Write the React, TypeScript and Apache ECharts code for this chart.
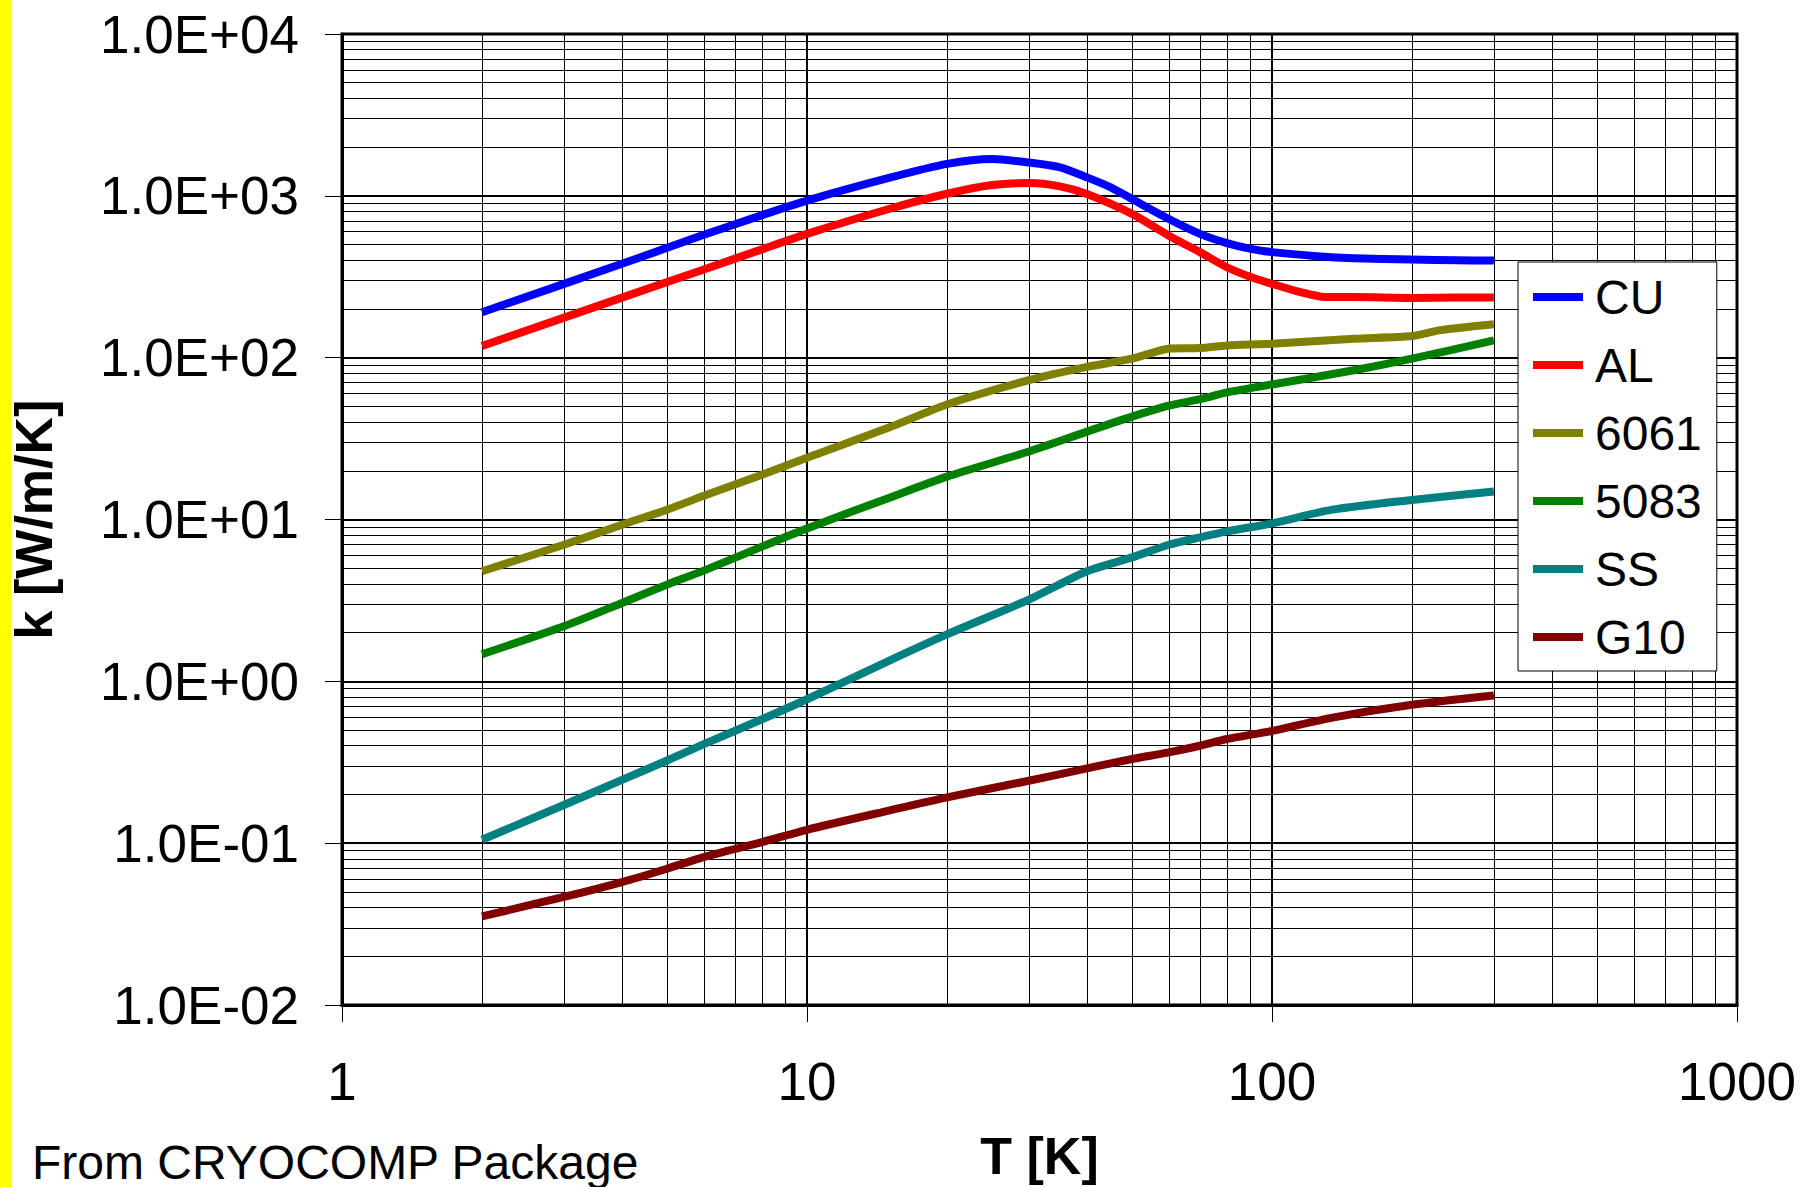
import React, { useEffect, useRef } from "react";
import * as echarts from "echarts";

// ---- data ----
const SERIES_NAMES = ["CU", "AL", "6061", "5083", "SS", "G10"];
const SERIES_COLORS = ["#0000FF", "#FF0000", "#808000", "#008000", "#008080", "#800000"];

const CU_T = [2, 4, 6, 8, 10, 15, 20, 25, 30, 35, 40, 45, 50, 60, 70, 80, 90, 100, 125, 150, 200, 250, 300];
const CU_K = [191, 380, 574, 760, 935, 1290, 1575, 1690, 1607, 1500, 1300, 1128, 955, 719, 582, 510, 470, 449, 424, 412, 404, 400, 398];

const AL_T = [2, 4, 6, 8, 10, 15, 20, 25, 30, 35, 40, 50, 60, 70, 80, 90, 100, 115, 130, 150, 200, 250, 300];
const AL_K = [118, 235, 351, 467, 582, 829, 1030, 1167, 1200, 1145, 1026, 773, 567, 449, 362, 315, 286, 254, 237, 237, 234, 235, 235];

const A6061_T = [2, 3, 4, 5, 6, 8, 10, 15, 20, 30, 40, 50, 60, 70, 80, 100, 150, 200, 230, 300];
const A6061_K = [4.79, 6.98, 9.27, 11.5, 14.0, 18.9, 24.1, 37.0, 51.4, 72.6, 87.7, 98.6, 113.7, 114.7, 119, 122, 131, 136, 148, 161];

const A5083_T = [2, 3, 4, 5, 6, 8, 10, 15, 20, 30, 40, 50, 60, 70, 80, 100, 150, 200, 300];
const A5083_K = [1.47, 2.19, 3.05, 3.96, 4.83, 6.8, 8.8, 13.6, 18.4, 26.3, 34.9, 43.2, 50.5, 55.4, 61, 68.3, 83.6, 98.6, 128];

const SS_T = [2, 3, 4, 5, 6, 8, 10, 15, 20, 30, 40, 50, 60, 70, 80, 100, 135, 200, 300];
const SS_K = [0.105, 0.172, 0.246, 0.324, 0.409, 0.583, 0.775, 1.34, 1.95, 3.2, 4.79, 5.83, 6.98, 7.76, 8.45, 9.47, 11.5, 13.2, 14.9];

const G10_T = [2, 3, 4, 5, 6, 8, 10, 15, 20, 30, 40, 50, 60, 70, 80, 100, 135, 200, 300];
const G10_K = [0.0353, 0.0465, 0.0575, 0.0695, 0.082, 0.1015, 0.121, 0.159, 0.192, 0.243, 0.29, 0.331, 0.364, 0.4, 0.44, 0.494, 0.597, 0.716, 0.817];

const SERIES_T = [CU_T, AL_T, A6061_T, A5083_T, SS_T, G10_T];
const SERIES_K = [CU_K, AL_K, A6061_K, A5083_K, SS_K, G10_K];

// axis ranges and minor grid positions
const X_MIN = 1;
const X_MAX = 1000;
const Y_MIN = 0.01;
const Y_MAX = 10000;
const X_DECADES = [1, 10, 100];
const Y_DECADES = [0.01, 0.1, 1, 10, 100, 1000];
const MINOR_MULT = [2, 3, 4, 5, 6, 7, 8, 9];

const FONT = "'Liberation Sans', Arial, Helvetica, sans-serif";

function fmtExp(v: number): string {
  const e = Math.round(Math.log10(v));
  const sign = e < 0 ? "-" : "+";
  const a = Math.abs(e);
  return "1.0E" + sign + (a < 10 ? "0" + a : String(a));
}

export default function App() {
  const ref = useRef<HTMLDivElement>(null);

  useEffect(() => {
    if (!ref.current) return;
    const chart = echarts.init(ref.current, undefined, { renderer: "svg" });

    const xMinor: number[] = [];
    X_DECADES.forEach((d) => MINOR_MULT.forEach((m) => xMinor.push(parseFloat((d * m).toPrecision(6)))));
    const yMinor: number[] = [];
    Y_DECADES.forEach((d) => MINOR_MULT.forEach((m) => yMinor.push(parseFloat((d * m).toPrecision(6)))));

    const dataSeries = SERIES_NAMES.map((name, i) => ({
      name,
      type: "line",
      z: 3,
      showSymbol: false,
      symbol: "none",
      silent: true,
      smooth: 0.25,
      color: SERIES_COLORS[i],
      lineStyle: { color: SERIES_COLORS[i], width: 8, cap: "butt", join: "round" },
      emphasis: { disabled: true },
      data: SERIES_T[i].map((t, j) => [t, SERIES_K[i][j]]),
    }));

    const gridSeries = {
      name: "_minor",
      type: "line",
      z: 1,
      silent: true,
      data: [],
      markLine: {
        z: 1,
        silent: true,
        animation: false,
        symbol: ["none", "none"],
        label: { show: false },
        emphasis: { disabled: true },
        lineStyle: { color: "#000", width: 1, type: "solid" },
        data: [
          ...xMinor.map((v) => ({ xAxis: v })),
          ...yMinor.map((v) => ({ yAxis: v })),
        ],
      },
    };

    const option: any = {
      animation: false,
      backgroundColor: "#ffffff",
      textStyle: { fontFamily: FONT },
      grid: {
        left: 339,
        top: 34,
        right: 64,
        bottom: 178,
        show: true,
        borderColor: "#000",
        borderWidth: 3,
        backgroundColor: "rgba(0,0,0,0)",
      },
      xAxis: {
        type: "log",
        logBase: 10,
        min: X_MIN,
        max: X_MAX,
        splitNumber: 3,
        name: "T [K]",
        nameLocation: "middle",
        nameGap: 125,
        nameTextStyle: { fontSize: 52, fontWeight: "bold", color: "#000", fontFamily: FONT },
        axisLine: { show: true, lineStyle: { color: "#000", width: 3 } },
        axisTick: { show: true, length: 17, inside: false, lineStyle: { color: "#000", width: 1 } },
        axisLabel: {
          fontSize: 53,
          color: "#000",
          fontFamily: FONT,
          margin: 50,
          formatter: (v: number) => String(Math.round(v)),
        },
        splitLine: { show: true, lineStyle: { color: "#000", width: 2 } },
      },
      yAxis: {
        type: "log",
        logBase: 10,
        min: Y_MIN,
        max: Y_MAX,
        splitNumber: 6,
        name: "k [W/m/K]",
        nameLocation: "middle",
        nameGap: 282,
        nameTextStyle: { fontSize: 52, fontWeight: "bold", color: "#000", fontFamily: FONT },
        axisLine: { show: true, lineStyle: { color: "#000", width: 3 } },
        axisTick: { show: true, length: 17, inside: false, lineStyle: { color: "#000", width: 1 } },
        axisLabel: {
          fontSize: 53,
          color: "#000",
          fontFamily: FONT,
          margin: 43,
          formatter: (v: number) => fmtExp(v),
        },
        splitLine: { show: true, lineStyle: { color: "#000", width: 2 } },
      },
      legend: {
        data: SERIES_NAMES,
        orient: "vertical",
        left: 1518,
        top: 262,
        z: 10,
        padding: [7, 15, 6, 15],
        itemGap: 12,
        itemWidth: 50,
        itemHeight: 8,
        icon: "rect",
        backgroundColor: "#ffffff",
        borderColor: "#000",
        borderWidth: 1,
        selectedMode: false,
        textStyle: { fontSize: 48, color: "#000", fontFamily: FONT, lineHeight: 56, padding: [0, 0, 0, 7] },
      },
      graphic: [
        {
          type: "rect",
          z: 100,
          shape: { x: 0, y: 0, width: 11, height: 1187 },
          style: { fill: "#FFFF00" },
          silent: true,
        },
        {
          type: "text",
          z: 100,
          x: 32,
          y: 1162,
          silent: true,
          style: {
            text: "From CRYOCOMP Package",
            fontSize: 48,
            fontFamily: FONT,
            fill: "#000",
            verticalAlign: "middle",
            align: "left",
          },
        },
      ],
      series: [gridSeries, ...dataSeries],
    };

    chart.setOption(option);
    return () => {
      chart.dispose();
    };
  }, []);

  return (
    <div
      ref={ref}
      style={{ position: "fixed", left: 0, top: 0, width: 1801, height: 1187, background: "#fff" }}
    />
  );
}
